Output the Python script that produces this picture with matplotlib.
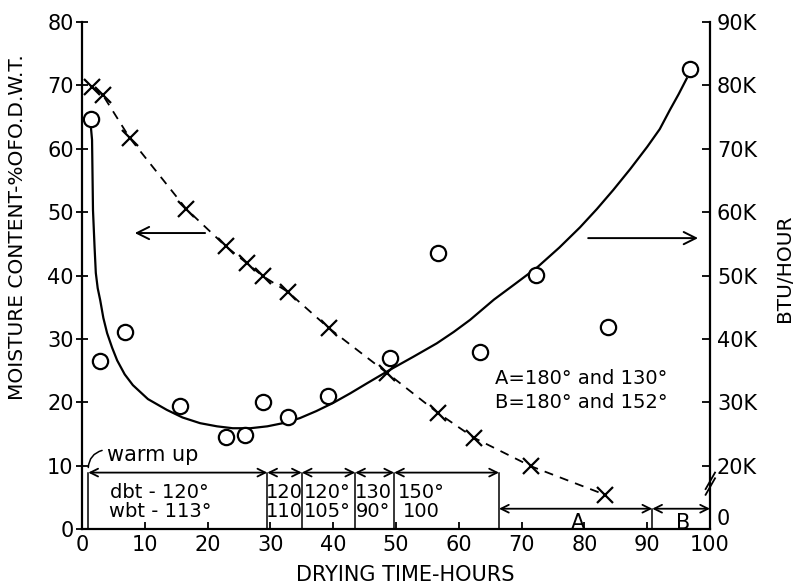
import matplotlib
matplotlib.use('Agg')
import matplotlib.pyplot as plt

# ---------------- data ----------------
# moisture content (% of oven-dry weight), X markers, left axis
moist_hours = [1.6, 3.3, 7.6, 16.6, 22.9, 26.3, 28.8, 32.8, 39.3, 48.6, 56.7, 62.4, 71.5, 83.3]
moist_pct = [69.7, 68.5, 61.7, 50.5, 44.6, 41.9, 39.9, 37.4, 31.7, 24.6, 18.3, 14.4, 9.9, 5.4]

# heat input (thousand BTU/hour), open circles, right axis
btu_hours = [1.4, 2.9, 6.8, 15.6, 22.9, 26.0, 28.8, 32.8, 39.2, 49.0, 56.7, 63.4, 72.3, 83.8, 96.8]
btu_k = [74.7, 36.5, 41.1, 29.4, 24.5, 24.8, 30.0, 27.7, 31.0, 37.0, 53.5, 37.9, 50.1, 41.9, 82.6]

# hand-drawn fitted curve through the BTU points
curve_hours = [1.4, 1.6, 1.75, 2.0, 2.2, 2.5, 2.9, 3.4, 4.0, 4.8, 5.6, 6.8, 8.1, 10.5, 13.5,
               16.0, 18.8, 21.5, 24.0, 26.8, 29.5, 32.0, 34.7, 37.3, 40.0, 42.7, 45.4, 49.0,
               52.8, 56.5, 59.2, 61.8, 65.6, 69.0, 72.5, 76.0, 79.3, 82.0, 84.6, 87.3,
               90.0, 92.0, 93.6, 95.0, 96.3]
curve_k = [73.6, 71.4, 60.3, 54.5, 50.4, 48.0, 46.1, 43.3, 40.9, 38.6, 36.6, 34.4, 32.7, 30.5, 28.8,
           27.6, 26.7, 26.2, 25.9, 25.9, 26.2, 26.7, 27.5, 28.6, 29.9, 31.4, 33.0, 35.1,
           37.2, 39.3, 41.1, 43.0, 46.2, 48.7, 51.3, 54.4, 57.6, 60.5, 63.5, 66.8,
           70.3, 73.1, 76.1, 78.6, 81.1]

# drying schedule periods (hours)
period_bounds = [1.0, 29.5, 35.0, 43.5, 49.7, 66.4]
period_labels = ["dbt - 120°\nwbt - 113°", "120\n110", "120°\n105°", "130\n90°", "150°\n100"]
period_label_x = [12.4, 32.2, 39.0, 46.4, 54.1]
late_bounds = [66.4, 90.8, 100.0]
late_labels = ["A", "B"]

x_ticks = [0, 10, 20, 30, 40, 50, 60, 70, 80, 90, 100]
left_ticks = [0, 10, 20, 30, 40, 50, 60, 70, 80]
right_ticks = [10, 20, 30, 40, 50, 60, 70, 80, 90]
right_tick_labels = ["0", "20K", "30K", "40K", "50K", "60K", "70K", "80K", "90K"]

# ---------------- figure ----------------
plt.rcParams['font.family'] = ['DejaVu Sans']
fig = plt.figure(figsize=(7.95, 5.86), dpi=100)
ax = fig.add_axes([82 / 795, 57 / 586, 628 / 795, 507 / 586])
ax.set_xlim(0, 100)
ax.set_ylim(0, 80)
ax2 = ax.twinx()
ax2.set_ylim(10, 90)

for s in ['top', 'right']:
    ax.spines[s].set_visible(False)
for s in ['top', 'left', 'bottom']:
    ax2.spines[s].set_visible(False)
for sp in [ax.spines['left'], ax.spines['bottom'], ax2.spines['right']]:
    sp.set_linewidth(1.6)

ax.set_xticks(x_ticks)
ax.set_yticks(left_ticks)
ax2.set_yticks(right_ticks)
ax2.set_yticklabels(right_tick_labels)
ax.tick_params(axis='x', direction='in', length=5, width=1.3, labelsize=15, pad=4)
ax.tick_params(axis='y', direction='inout', length=8, width=1.3, labelsize=15, pad=2)
ax2.tick_params(axis='y', direction='in', length=6, width=1.3, labelsize=15, pad=5)
# lift the right-hand "0" a little so it clears the "100" below it
ax2.get_yticklabels()[0].set_y(ax2.get_yticklabels()[0].get_position()[1])
for lab in ax2.get_yticklabels()[:1]:
    lab.set_verticalalignment('bottom')

# moisture content: dashed line with X markers
ax.plot(moist_hours, moist_pct, ls=(0, (5, 4)), color='black', lw=1.3, zorder=3)
ax.plot(moist_hours, moist_pct, ls='none', marker='x', ms=11, mew=1.6, color='black', zorder=4)

# BTU: smooth curve and open circles
ax2.plot(curve_hours, curve_k, color='black', lw=1.6, zorder=3)
ax2.plot(btu_hours, btu_k, ls='none', marker='o', ms=11, mfc='white', mec='black',
         mew=1.6, zorder=5)

# schedule arrows and separators
arrow_y = 8.9
for a, b in zip(period_bounds[:-1], period_bounds[1:]):
    ax.annotate('', xy=(a, arrow_y), xytext=(b, arrow_y),
                arrowprops=dict(arrowstyle='<->', lw=1.3, color='black',
                                shrinkA=0, shrinkB=0, mutation_scale=14))
for xb in period_bounds:
    ax.plot([xb, xb], [0, arrow_y], color='black', lw=1.1)
for xc, lab in zip(period_label_x, period_labels):
    ax.text(xc, 4.3, lab, ha='center', va='center', fontsize=14, linespacing=1.0)

late_y = 3.2
for a, b in zip(late_bounds[:-1], late_bounds[1:]):
    ax.annotate('', xy=(a, late_y), xytext=(b, late_y),
                arrowprops=dict(arrowstyle='<->', lw=1.3, color='black',
                                shrinkA=0, shrinkB=0, mutation_scale=14))
ax.plot([late_bounds[1], late_bounds[1]], [0, late_y], color='black', lw=1.1)
for (a, b), lab in zip(zip(late_bounds[:-1], late_bounds[1:]), late_labels):
    ax.text((a + b) / 2 + 0.4, 0.9, lab, ha='center', va='center', fontsize=15)

# warm up label with small leader
ax.text(4.0, 11.7, "warm up", ha='left', va='center', fontsize=15)
ax.annotate('', xy=(1.0, 9.7), xytext=(3.2, 12.4),
            arrowprops=dict(arrowstyle='-', lw=1.1, color='black',
                            connectionstyle='arc3,rad=0.35', shrinkA=0, shrinkB=0))

# legend for A and B
ax.text(65.8, 23.7, "A=180° and 130°", ha='left', va='center', fontsize=14)
ax.text(65.8, 20.0, "B=180° and 152°", ha='left', va='center', fontsize=14)

# axis-pointing arrows
ax.annotate('', xy=(8.4, 46.7), xytext=(19.6, 46.7),
            arrowprops=dict(arrowstyle='->', lw=1.4, color='black',
                            shrinkA=0, shrinkB=0, mutation_scale=22))
ax.annotate('', xy=(98.1, 45.9), xytext=(80.6, 45.9),
            arrowprops=dict(arrowstyle='->', lw=1.4, color='black',
                            shrinkA=0, shrinkB=0, mutation_scale=22))

# axis break marks on the right axis
for dy in (0.0, -0.9):
    ax.plot([99.3, 100.8], [6.3 + dy, 8.9 + dy], color='black', lw=1.3, clip_on=False)

# axis titles
fig.text(18 / 795, 1 - 227 / 586, "MOISTURE CONTENT-%OFO.D.W.T.", rotation=90,
         ha='center', va='center', fontsize=14.5)
fig.text(785 / 795, 1 - 268 / 586, "BTU/HOUR", rotation=90,
         ha='center', va='center', fontsize=14.5)
fig.text(405 / 795, 1 - 575 / 586, "DRYING TIME-HOURS",
         ha='center', va='center', fontsize=15)

fig.savefig('out.png', dpi=100)
